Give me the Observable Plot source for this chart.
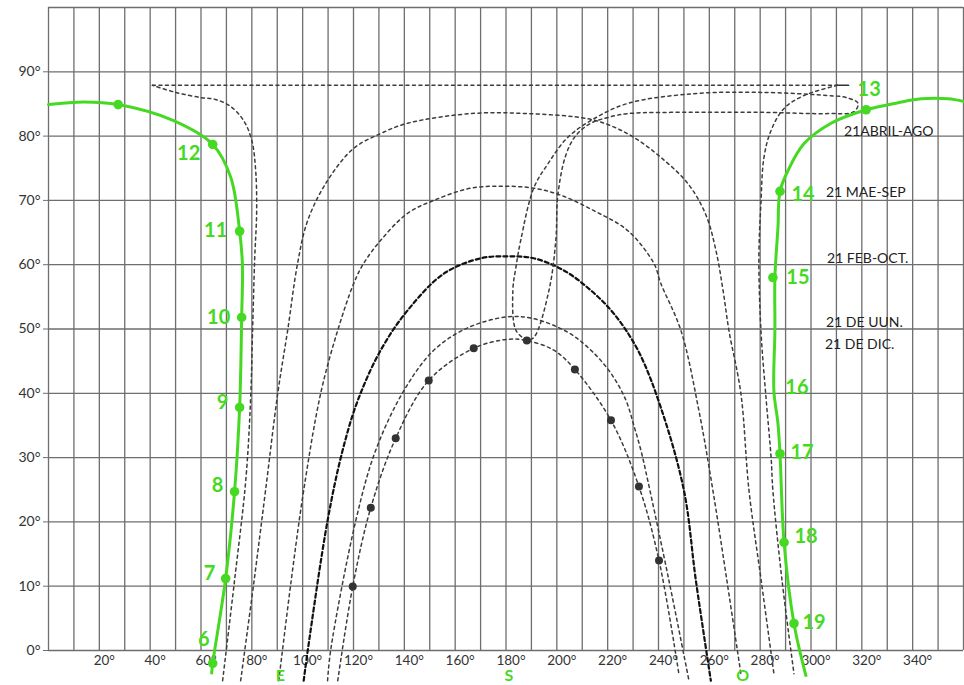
<!DOCTYPE html>
<html><head><meta charset="utf-8">
<script src="https://cdn.jsdelivr.net/npm/d3@7"></script>
<script src="https://cdn.jsdelivr.net/npm/@observablehq/plot@0.6"></script>
<style>body{margin:0;background:#fff} svg{display:block}</style>
</head><body><div id="chart"></div>
<script>
// ---- axis ticks ----
const gridAz = d3.range(0, 361, 10);
const gridAlt = d3.range(0, 101, 10);
const xTickLabels = [20,40,60,80,100,120,140,160,180,200,220,240,260,280,300,320,340];
const yTickLabels = [0,10,20,30,40,50,60,70,80,90];

// ---- green sun path (azimuth, altitude) ----
const greenMorning = [[0,84.9],[13.8,85.3],[27.4,84.9],[49.2,82.4],[64.6,78.7],[71.7,73.6],[75.2,65.2],[76.3,60],[76.0,51.8],[75.2,37.8],[73.2,24.7],[69.7,11.2],[64.6,-2.0],[64.2,-3.5]];
const greenAfternoon = [[360,85.4],[353.9,85.8],[343.3,85.8],[334.3,85.2],[321.7,84.1],[307.9,82.0],[297.2,78.8],[290.9,74.6],[287.8,71.4],[287.0,65.8],[285.8,58.0],[285.8,49.8],[285.4,40.4],[287.0,35.3],[287.8,30.6],[289.4,16.8],[293.3,4.2],[298.0,-3.9]];
const greenExtraDot = [[27.4,84.9]];
const hourLabels = ["6","7","8","9","10","11","12","13","14","15","16","17","18","19"];
const hourAz  = [64.6,69.7,73.2,75.2,76.0,75.2,64.6,321.7,287.8,285.0,285.4,287.8,289.4,293.3];
const hourAlt = [-2.0,11.2,24.7,37.8,51.8,65.2,78.7,84.1,71.4,58.0,40.4,30.6,16.8,4.2];
const hourHasDot = [1,1,1,1,1,1,1,1,1,1,0,1,1,1];

// ---- dashed day curves (azimuth, altitude) ----
const curveB = [[68.5,-4.7],[73.2,10.9],[77.6,26.4],[79.5,38.9],[80.3,49.8],[81.1,60.7],[81.9,68.4],[81.5,74.7],[80.0,79.3],[76.8,82.4],[71.7,84.6],[65.7,85.7],[59.8,86.0],[50.0,86.8],[40.9,87.9]];
const lineTop = [[40.9,87.9],[310.4,87.9]];
const solidTop = [[310.4,87.9],[314.8,87.9]];
const curveBR = [[310.4,87.9],[297.2,86.3],[289.4,84.3],[284.3,80.9],[281.5,76.7],[280.3,69.5],[279.5,61.1],[280.3,49.8],[282.3,39.3],[284.3,30.0],[285.0,24.9],[288.6,10.9],[293.3,-3.6]];
const curveC = [[75.6,-4.7],[80.9,10.9],[85.4,24.9],[90.2,40.0],[94.1,49.8],[98.0,60.2],[102.0,66.9],[109.8,73.1],[120.1,78.1],[130.7,80.4],[141.3,82.0],[166.1,83.5],[188.6,83.5],[212.2,82.7],[221.3,81.6],[230.3,79.8],[240.9,76.7],[251.6,72.6],[258.7,67.7],[262.6,62.2],[265.4,56.0],[267.7,49.8],[272.4,40.0],[275.6,24.9],[280.4,10.9],[285.4,-3.6]];
const curveD = [[90.6,-4.7],[95.5,10.9],[100.4,24.9],[107.1,40.0],[113.8,49.8],[120.1,57.1],[124.0,60.2],[130.7,63.8],[141.3,68.0],[151.6,70.0],[166.1,71.9],[179.1,72.2],[190.9,71.9],[201.6,70.8],[214.6,68.4],[227.9,65.3],[238.2,60.2],[240.9,57.1],[248.8,49.8],[255.9,37.3],[261.4,24.9],[266.9,10.9],[272.4,-3.6]];
const curveE = [[100.4,-4.7],[102.0,0],[109.8,20.2],[115.7,31.1],[121.7,38.9],[130.7,46.7],[141.3,52.9],[155.5,58.6],[170.1,61.0],[180.7,61.3],[190.9,61.0],[202.8,59.1],[213.4,56.0],[222.4,52.4],[231.9,46.7],[240.9,37.8],[250.0,24.9],[254.7,10.9],[260.6,-4.7]];
const curveF = [[109.8,-4.7],[111.0,0],[120.9,20.2],[128.7,31.1],[139.8,40.4],[151.6,46.7],[165.0,50.2],[180.7,51.9],[190.9,51.6],[204.3,49.5],[213.4,46.7],[221.3,43.1],[227.2,38.9],[230.3,35.0],[233.1,31.1],[235.8,26.4],[244.1,10.9],[252.0,-4.7]];
const curveG = [[113.8,-4.7],[119.7,9.95],[126.8,22.2],[136.6,33.0],[149.6,42.0],[167.3,47.0],[180.7,48.4],[188.2,48.2],[198.8,46.7],[207.1,43.7],[221.3,35.8],[232.3,25.5],[240.2,14.0],[248.0,-3.6]];
const loopH = [[188.2,48.2],[183.9,49.8],[182.7,56.0],[183.9,59.6],[185.8,63.8],[190.9,71.9],[196.5,75.7],[204.3,79.8],[214.6,82.7],[228.0,85.1],[253.9,86.6],[280.3,86.8],[306.7,86.3],[313.8,86.0],[318.5,85.1],[316.9,83.8],[306.7,83.5],[280.3,83.7],[253.9,83.7],[228.0,83.5],[220.1,82.9],[213.4,82.0],[207.5,80.1],[203.5,77.0],[200.4,70.8],[199.6,63.8],[196.9,56.0],[191.0,48.7],[188.2,48.2]];

// ---- hourly points on 21 Dec curve ----
const decDotAz  = [119.7,126.8,136.6,149.6,167.3,188.2,207.1,221.3,232.3,240.2];
const decDotAlt = [9.95,22.2,33.0,42.0,47.0,48.2,43.7,35.8,25.5,14.0];

// ---- text labels ----
const dateLabels = ["21ABRIL-AGO","21 MAE-SEP","21 FEB-OCT.","21 DE UUN.","21 DE DIC."];
const dateAz  = [313.0,305.9,306.3,305.9,305.5];
const dateAlt = [80.7,71.2,60.9,51.0,47.6];
const cardinals = ["E","S","O"];
const cardinalAz = [90,180,272];

// ---------------------------------------------------------
const green = "#46d923";
const pts = a => a.map(([az, alt]) => ({az, alt}));
const dash = {x:"az", y:"alt", stroke:"#3c3c3c", strokeWidth:1.5, strokeDasharray:"3,3.5", curve:"catmull-rom"};

const hours = hourLabels.map((h,i) => ({h, az:hourAz[i], alt:hourAlt[i], dot:hourHasDot[i]}));
const labelOffset = {"6":[-9,-24],"7":[-16,-5],"8":[-17,-6],"9":[-17,-5],"10":[-23,0],"11":[-24,-1],"12":[-24,9],
  "13":[3,-20],"14":[23,3],"15":[25,0],"16":[23,-3],"17":[22,-1],"18":[22,-6],"19":[20,-1]};

const marks = [
  Plot.ruleX(gridAz, {stroke:"#6e6e6e", strokeWidth:1.3}),
  Plot.ruleY(gridAlt, {stroke:"#6e6e6e", strokeWidth:1.3}),
  Plot.axisY(yTickLabels, {tickSize:5, tickPadding:3, tickFormat:d => d + "°", fontSize:14, fill:"#333", stroke:"#6e6e6e", label:null}),
  Plot.axisX(xTickLabels, {tickSize:0, tickPadding:5, dx:5, tickFormat:d => d + "°", fontSize:13.5, fill:"#333", label:null}),
  Plot.line(pts(curveB), dash),
  Plot.line(pts(lineTop), {...dash, curve:"linear"}),
  Plot.line(pts(solidTop), {x:"az", y:"alt", stroke:"#333", strokeWidth:1.6}),
  Plot.line(pts(curveBR), dash),
  Plot.line(pts(curveC), dash),
  Plot.line(pts(curveD), dash),
  Plot.line(pts(curveE), {...dash, stroke:"#111", strokeWidth:2.2, strokeDasharray:"4,3"}),
  Plot.line(pts(curveF), dash),
  Plot.line(pts(curveG), dash),
  Plot.line(pts(loopH), dash),
  Plot.dot(decDotAz.map((a,i) => ({az:a, alt:decDotAlt[i]})), {x:"az", y:"alt", r:4, fill:"#333"}),
  Plot.line(pts(greenMorning), {x:"az", y:"alt", stroke:green, strokeWidth:3, curve:"catmull-rom"}),
  Plot.line(pts(greenAfternoon), {x:"az", y:"alt", stroke:green, strokeWidth:3, curve:"catmull-rom"}),
  Plot.dot(hours.filter(d => d.dot), {x:"az", y:"alt", r:4.8, fill:green}),
  Plot.dot(pts(greenExtraDot), {x:"az", y:"alt", r:4.8, fill:green}),
  ...hours.map(d => Plot.text([d], {x:"az", y:"alt", text:"h", dx:labelOffset[d.h][0], dy:labelOffset[d.h][1],
      fill:green, fontSize:20, fontWeight:700})),
  Plot.text(dateLabels.map((t,i) => ({t, az:dateAz[i], alt:dateAlt[i]})), {x:"az", y:"alt", text:"t", textAnchor:"start", fill:"#222", fontSize:14}),
  Plot.text(cardinals.map((t,i) => ({t, az:cardinalAz[i]})), {x:"az", y:() => 0, text:"t", dx:3, dy:25, fill:green, fontSize:16, fontWeight:700})
];

const chart = Plot.plot({
  width:964, height:685,
  marginLeft:48, marginRight:1, marginTop:7, marginBottom:35,
  x:{domain:[0,360], axis:null},
  y:{domain:[0,100], axis:null},
  style:{fontFamily:"Lato, 'Open Sans', sans-serif", background:"#fff", color:"#333"},
  marks
});
document.getElementById("chart").appendChild(chart);
</script>
</body></html>
